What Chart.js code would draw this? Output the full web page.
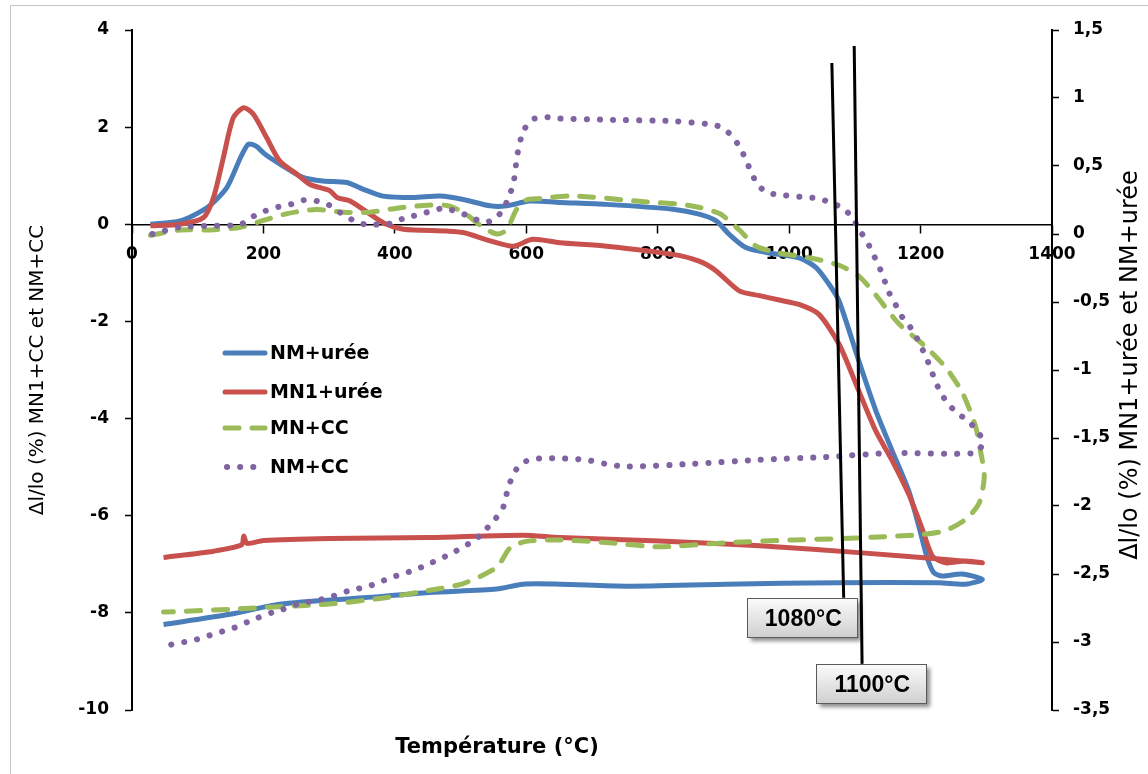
<!DOCTYPE html>
<html>
<head>
<meta charset="utf-8">
<script src="https://cdn.jsdelivr.net/npm/chart.js@4"></script>
<style>
  html, body { margin: 0; padding: 0; background: #fff; }
  #wrap { width: 1148px; height: 774px; }
</style>
</head>
<body>
<div id="wrap"><canvas id="chart" width="1148" height="774"></canvas></div>
<script>
// series (temperature °C / dl/lo %), heating then cooling
var nmUreeT = [28, 73, 114, 144, 165, 177, 189, 200, 210, 230, 261, 291, 327, 352, 382, 428, 469, 504, 545, 570, 605, 651, 722, 823, 863, 889, 909, 934, 965, 1015, 1041, 1061, 1076, 1106, 1132, 1157, 1182, 1198, 1210, 1220, 1233, 1263, 1294,
               1268, 1228, 1076, 904, 752, 651, 595, 555, 453, 352, 225, 149, 48];
var nmUreeV = [0, 0.07, 0.34, 0.75, 1.37, 1.65, 1.61, 1.47, 1.37, 1.2, 0.96, 0.89, 0.86, 0.72, 0.58, 0.55, 0.58, 0.51, 0.38, 0.38, 0.48, 0.45, 0.41, 0.31, 0.21, 0.07, -0.21, -0.48, -0.58, -0.69, -0.89, -1.24, -1.58, -2.81, -3.84, -4.67, -5.49, -6.25, -6.86, -7.17, -7.24, -7.2, -7.31,
               -7.41, -7.38, -7.38, -7.41, -7.45, -7.41, -7.41, -7.51, -7.58, -7.69, -7.82, -8.03, -8.24];

var mn1UreeT = [28, 73, 109, 124, 139, 154, 170, 185, 205, 225, 251, 271, 301, 312, 332, 362, 387, 413, 479, 504, 545, 580, 610, 651, 722, 823, 863, 889, 924, 955, 985, 1015, 1045, 1076, 1106, 1132, 1157, 1182, 1202, 1218, 1238, 1268, 1294,
                1238, 1106, 955, 803, 651, 595, 453, 301, 200, 175, 170, 167, 124, 48];
var mn1UreeV = [-0.03, 0, 0.14, 0.55, 1.37, 2.19, 2.4, 2.26, 1.78, 1.3, 1.03, 0.82, 0.69, 0.55, 0.48, 0.21, 0, -0.1, -0.14, -0.17, -0.34, -0.45, -0.31, -0.38, -0.45, -0.62, -0.76, -0.96, -1.37, -1.47, -1.56, -1.65, -1.85, -2.47, -3.43, -4.26, -4.87, -5.56, -6.25, -6.83, -6.97, -6.93, -6.97,
                -6.9, -6.76, -6.62, -6.52, -6.45, -6.4, -6.45, -6.47, -6.51, -6.57, -6.42, -6.6, -6.73, -6.86];

var mnCcT = [28, 73, 119, 165, 200, 236, 281, 322, 362, 403, 443, 479, 504, 534, 555, 570, 585, 600, 620, 671, 772, 848, 894, 924, 950, 985, 1036, 1076, 1106, 1132, 1167, 1208, 1238, 1264, 1284, 1291, 1297,
             1289, 1268, 1238, 1202, 1127, 1076, 1005, 904, 803, 727, 651, 600, 575, 555, 504, 453, 377, 301, 225, 149, 48];
var mnCcV = [-0.01, 0.03, 0.03, 0.05, 0.1, 0.15, 0.18, 0.16, 0.16, 0.19, 0.21, 0.21, 0.16, 0.05, 0, 0.03, 0.18, 0.25, 0.26, 0.28, 0.24, 0.21, 0.15, 0.03, -0.09, -0.14, -0.18, -0.23, -0.31, -0.45, -0.66, -0.83, -0.98, -1.17, -1.42, -1.59, -1.78,
             -1.98, -2.1, -2.18, -2.21, -2.23, -2.24, -2.25, -2.27, -2.3, -2.27, -2.25, -2.26, -2.31, -2.45, -2.57, -2.62, -2.68, -2.72, -2.74, -2.76, -2.78];

var nmCcT = [31, 73, 119, 165, 185, 203, 223, 243, 263, 284, 301, 319, 337, 355, 374, 398, 415, 435, 456, 476, 496, 514, 532, 549, 565, 572, 580, 583, 586, 590, 596, 608, 628, 648, 722, 823, 874, 894, 909, 922, 932, 940, 950, 964, 982, 1025, 1046, 1063, 1082, 1096, 1107, 1119, 1128, 1137, 1145, 1152, 1162, 1172, 1185, 1195, 1205, 1213, 1220, 1228, 1239, 1254, 1271, 1285, 1295,
             1283, 1157, 1056, 955, 853, 752, 720, 690, 651, 620, 600, 585, 575, 569, 564, 552, 537, 522, 504, 486, 468, 450, 430, 412, 392, 372, 352, 332, 314, 294, 274, 253, 236, 215, 198, 177, 159, 139, 119, 99, 80, 59];
var nmCcV = [0, 0.05, 0.06, 0.07, 0.13, 0.17, 0.2, 0.22, 0.25, 0.24, 0.21, 0.15, 0.1, 0.07, 0.07, 0.08, 0.12, 0.14, 0.17, 0.19, 0.16, 0.13, 0.09, 0.1, 0.18, 0.26, 0.36, 0.46, 0.57, 0.67, 0.76, 0.84, 0.86, 0.85, 0.84, 0.83, 0.81, 0.79, 0.74, 0.66, 0.57, 0.48, 0.38, 0.31, 0.29, 0.27, 0.26, 0.23, 0.19, 0.12, 0.03, -0.06, -0.15, -0.24, -0.34, -0.43, -0.52, -0.61, -0.69, -0.77, -0.87, -0.96, -1.05, -1.14, -1.23, -1.31, -1.37, -1.44, -1.53,
             -1.61, -1.61, -1.64, -1.66, -1.69, -1.71, -1.69, -1.66, -1.65, -1.65, -1.67, -1.73, -1.83, -1.93, -2.02, -2.1, -2.18, -2.25, -2.3, -2.35, -2.39, -2.43, -2.47, -2.5, -2.53, -2.57, -2.6, -2.62, -2.65, -2.68, -2.7, -2.72, -2.75, -2.78, -2.81, -2.85, -2.89, -2.92, -2.95, -2.98, -3.0, -3.02];

// drawn marker lines (on left axis) and their callouts
var mark1080T = [1065, 1083], mark1080V = [3.32, -7.69];
var mark1100T = [1099, 1111], mark1100V = [3.67, -9.05];
var calloutText = ['1080°C', '1100°C'];
var calloutT = [1020, 1125];
var calloutV = [-8.1, -9.45];

var legendNames = ['NM+urée', 'MN1+urée', 'MN+CC', 'NM+CC'];
var xTitle = 'Température (°C)';
var yTitle = 'Δl/lo (%) MN1+CC et NM+CC';
var y1Title = 'Δl/lo (%) MN1+urée et NM+urée';

function pts(t, v) {
    return t.map(function (x, i) { return { x: x, y: v[i] }; });
}

var decor = {
    id: 'decor',
    beforeDraw: function (chart) {
        var c = chart.ctx;
        c.save();
        c.fillStyle = '#fff';
        c.fillRect(0, 0, chart.width, chart.height);
        c.strokeStyle = '#c4c4c4';
        c.lineWidth = 1;
        c.beginPath();
        c.moveTo(10.5, 774);
        c.lineTo(10.5, 5.5);
        c.lineTo(1148, 5.5);
        c.stroke();
        c.restore();
    },
    afterDatasetsDraw: function (chart) {
        var c = chart.ctx;
        var xs = chart.scales.x, ys = chart.scales.y;
        // legend
        var rows = [353, 392, 428, 467];
        c.save();
        for (var i = 0; i < 4; i++) {
            var ds = chart.data.datasets[i];
            c.strokeStyle = ds.borderColor;
            c.lineWidth = ds.borderWidth;
            c.lineCap = 'round';
            c.setLineDash(ds.borderDash || []);
            c.beginPath();
            if (i === 3) { c.moveTo(227, rows[i]); c.lineTo(254, rows[i]); }
            else { c.moveTo(225, rows[i]); c.lineTo(265, rows[i]); }
            c.stroke();
            c.setLineDash([]);
            c.fillStyle = '#000';
            c.font = 'bold 19px "DejaVu Sans"';
            c.textBaseline = 'middle';
            c.textAlign = 'left';
            c.fillText(legendNames[i], 270, rows[i] + 1);
        }
        // callouts
        var w = 110, h = 39;
        for (var k = 0; k < calloutText.length; k++) {
            var cx = xs.getPixelForValue(calloutT[k]);
            var cy = ys.getPixelForValue(calloutV[k]);
            var x0 = Math.round(cx - w / 2) + 0.5, y0 = Math.round(cy - h / 2) + 0.5;
            c.save();
            c.shadowColor = 'rgba(0,0,0,0.45)';
            c.shadowOffsetX = 3;
            c.shadowOffsetY = 3;
            c.shadowBlur = 4;
            var g = c.createLinearGradient(0, y0, 0, y0 + h);
            g.addColorStop(0, '#fbfbfb');
            g.addColorStop(1, '#cfcfcf');
            c.fillStyle = g;
            c.fillRect(x0, y0, w, h);
            c.restore();
            c.strokeStyle = '#5a5a5a';
            c.lineWidth = 1;
            c.strokeRect(x0, y0, w, h);
            c.fillStyle = '#000';
            c.font = 'bold 23px "Liberation Sans"';
            c.textAlign = 'center';
            c.textBaseline = 'middle';
            c.fillText(calloutText[k], cx + 1, cy + 2);
        }
        c.restore();
    },
    afterDraw: function (chart) {
        var c = chart.ctx;
        c.save();
        c.fillStyle = '#000';
        c.textAlign = 'center';
        c.textBaseline = 'middle';
        c.font = 'bold 21px "DejaVu Sans"';
        c.fillText(xTitle, 497, 748);
        c.font = '20px "DejaVu Sans"';
        c.translate(38, 370);
        c.rotate(-Math.PI / 2);
        c.fillText(yTitle, 0, 0);
        c.restore();
        c.save();
        c.fillStyle = '#000';
        c.textAlign = 'center';
        c.textBaseline = 'middle';
        c.font = '24px "DejaVu Sans"';
        c.translate(1131, 365);
        c.rotate(-Math.PI / 2);
        c.fillText(y1Title, 0, 0);
        c.restore();
    }
};

var tickFont = { family: 'DejaVu Sans', weight: 'bold', size: 17 };

var chart = new Chart('chart', {
    type: 'scatter',
    data: {
        datasets: [{
            label: legendNames[0],
            data: pts(nmUreeT, nmUreeV),
            yAxisID: 'y',
            borderColor: '#4a7ebb',
            borderWidth: 5,
            order: 4
        }, {
            label: legendNames[1],
            data: pts(mn1UreeT, mn1UreeV),
            yAxisID: 'y',
            borderColor: '#c8504d',
            borderWidth: 5,
            order: 3
        }, {
            label: legendNames[2],
            data: pts(mnCcT, mnCcV),
            yAxisID: 'y1',
            borderColor: '#9bbb59',
            borderWidth: 5,
            borderDash: [14, 13],
            borderCapStyle: 'round',
            order: 2
        }, {
            label: legendNames[3],
            data: pts(nmCcT, nmCcV),
            yAxisID: 'y1',
            borderColor: '#8064a2',
            borderWidth: 6,
            borderDash: [0.1, 13],
            borderCapStyle: 'round',
            order: 1
        }, {
            label: 'm1080',
            data: pts(mark1080T, mark1080V),
            yAxisID: 'y',
            borderColor: '#000',
            borderWidth: 3,
            tension: 0,
            order: 0
        }, {
            label: 'm1100',
            data: pts(mark1100T, mark1100V),
            yAxisID: 'y',
            borderColor: '#000',
            borderWidth: 3,
            tension: 0,
            order: 0
        }]
    },
    options: {
        responsive: false,
        devicePixelRatio: 1,
        animation: false,
        showLine: true,
        layout: { padding: { top: 30, bottom: 64, left: 0, right: 0 } },
        elements: {
            point: { radius: 0, hoverRadius: 0 },
            line: { tension: 0.25, borderJoinStyle: 'round', fill: false }
        },
        plugins: {
            legend: { display: false },
            tooltip: { enabled: false }
        },
        scales: {
            x: {
                type: 'linear',
                min: 0,
                max: 1400,
                position: { y: 0 },
                ticks: {
                    stepSize: 200, color: '#000', font: tickFont, padding: 12, maxRotation: 0,
                    callback: function (v) { return String(v); }
                },
                grid: { drawOnChartArea: false, tickLength: 8, tickColor: '#000', tickWidth: 1.5 },
                border: { color: '#000', width: 1.5 }
            },
            y: {
                position: 'left',
                min: -10,
                max: 4,
                ticks: { stepSize: 2, color: '#000', font: tickFont, padding: 16 },
                grid: { drawOnChartArea: false, tickLength: 7, tickColor: '#000', tickWidth: 1.5 },
                border: { color: '#000', width: 2 },
                afterFit: function (s) { s.width = 132; }
            },
            y1: {
                position: 'right',
                min: -3.5,
                max: 1.5,
                ticks: {
                    stepSize: 0.5, color: '#000', font: tickFont, padding: 14,
                    callback: function (v) { return String(v).replace('.', ','); }
                },
                grid: { drawOnChartArea: false, tickLength: 7, tickColor: '#000', tickWidth: 1.5 },
                border: { color: '#000', width: 2 },
                afterFit: function (s) { s.width = 96; }
            }
        }
    },
    plugins: [decor]
});
</script>
</body>
</html>
